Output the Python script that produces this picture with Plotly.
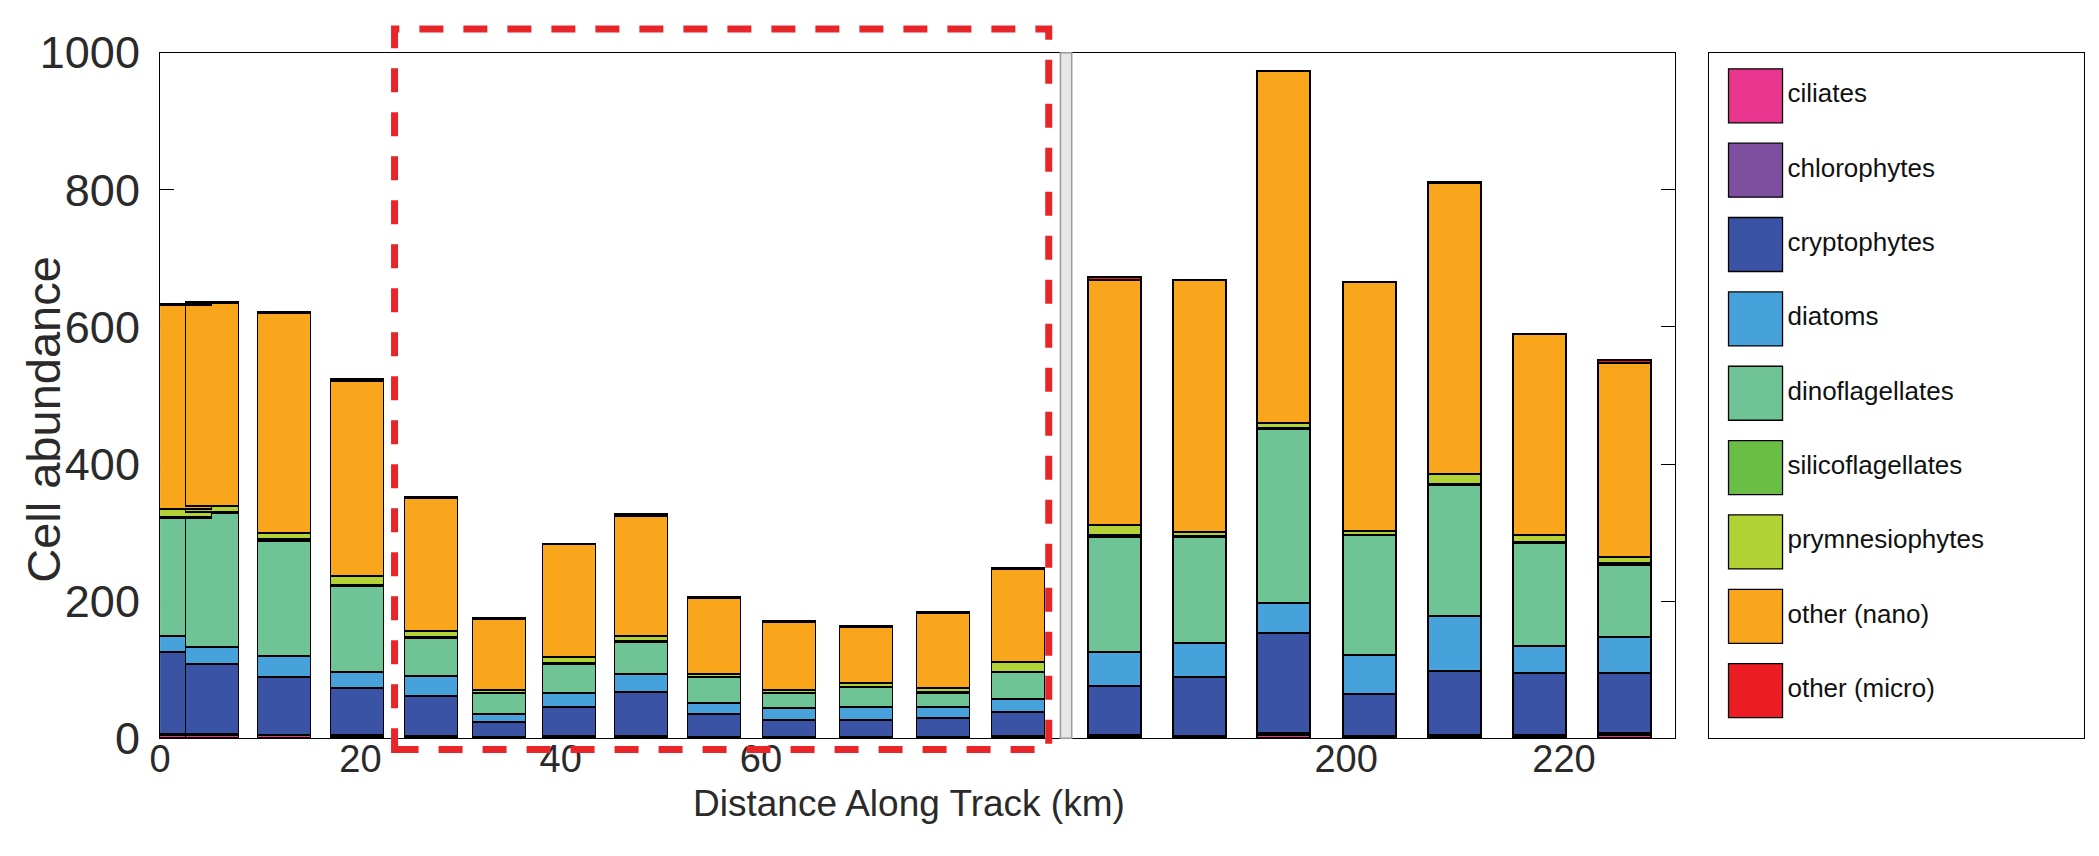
import plotly.graph_objects as go

# groups, bottom to top of each stacked bar
categories = ["ciliates", "chlorophytes", "cryptophytes", "diatoms", "dinoflagellates",
              "silicoflagellates", "prymnesiophytes", "other (nano)", "other (micro)"]
colors = ["#e8368f", "#7f4f9f", "#3a53a4", "#47a1da", "#6fc495",
          "#6abd45", "#b3d235", "#f9a61c", "#ec1c24"]

# left part of the track (km)
dist_left = [2.5, 5.2, 12.4, 19.7, 27.1, 33.9, 40.9, 48.1, 55.4, 62.9, 70.5, 78.2, 85.7]
ciliates_l = [3, 3, 3, 2, 1, 1, 1, 1, 1, 1, 1, 1, 1]
chlorophytes_l = [2, 2, 1, 1, 1, 0, 1, 1, 0, 0, 0, 0, 1]
cryptophytes_l = [120, 103, 85, 69, 58, 21, 43, 65, 34, 24, 25, 27, 35]
diatoms_l = [23, 24, 30, 23, 30, 13, 20, 26, 15, 18, 18, 16, 19]
dinoflagellates_l = [172, 196, 168, 126, 55, 30, 43, 47, 38, 22, 29, 21, 39]
silicoflagellates_l = [2, 1, 2, 2, 1, 0, 1, 1, 0, 0, 0, 1, 1]
prymnesiophytes_l = [11, 9, 9, 12, 9, 5, 9, 7, 5, 4, 7, 6, 14]
nano_l = [298, 296, 322, 285, 195, 103, 164, 175, 110, 100, 81, 110, 136]
micro_l = [1, 1, 1, 3, 1, 1, 1, 3, 2, 1, 1, 1, 2]

# right part of the track (km)
dist_right = [178.8, 186.6, 194.3, 202.2, 210.0, 217.8, 225.6]
ciliates_r = [2, 1, 3, 1, 2, 1, 3]
chlorophytes_r = [1, 1, 3, 1, 1, 3, 3]
cryptophytes_r = [72, 86, 146, 62, 94, 90, 88]
diatoms_r = [50, 50, 44, 56, 81, 40, 53]
dinoflagellates_r = [168, 155, 254, 175, 191, 150, 105]
silicoflagellates_r = [2, 1, 2, 1, 1, 1, 3]
prymnesiophytes_r = [15, 6, 7, 6, 14, 10, 9]
nano_r = [358, 367, 513, 362, 425, 293, 282]
micro_r = [4, 1, 1, 1, 1, 1, 4]

left = [ciliates_l, chlorophytes_l, cryptophytes_l, diatoms_l, dinoflagellates_l,
        silicoflagellates_l, prymnesiophytes_l, nano_l, micro_l]
right = [ciliates_r, chlorophytes_r, cryptophytes_r, diatoms_r, dinoflagellates_r,
         silicoflagellates_r, prymnesiophytes_r, nano_r, micro_r]

FONT = "Liberation Sans, Arial, Helvetica, sans-serif"

fig = go.Figure()
for name, col, vl, vr in zip(categories, colors, left, right):
    fig.add_trace(go.Bar(x=dist_left, y=vl, width=5.3, name=name, marker_color=col,
                         marker_line=dict(color="black", width=1.3),
                         xaxis="x", yaxis="y", showlegend=False))
    fig.add_trace(go.Bar(x=dist_right, y=vr, width=4.85, name=name, marker_color=col,
                         marker_line=dict(color="black", width=1.3),
                         xaxis="x2", yaxis="y2", showlegend=False))

# legend drawn as its own little axis: one square per group
rows = list(range(1, len(categories) + 1))
fig.add_trace(go.Scatter(x=[0.125] * len(rows), y=rows, mode="markers",
                         marker=dict(symbol="square", size=54, color=colors,
                                     line=dict(color="black", width=1.3)),
                         xaxis="x3", yaxis="y3", showlegend=False, hoverinfo="skip"))
fig.add_trace(go.Scatter(x=[0.21] * len(rows), y=rows, mode="text", text=categories,
                         textposition="middle right",
                         textfont=dict(family=FONT, size=26, color="#111111"),
                         xaxis="x3", yaxis="y3", showlegend=False, hoverinfo="skip"))

y0, y1 = 0.114, 0.9656
axis_common = dict(showline=True, linecolor="black", linewidth=1.3, mirror=True,
                   showgrid=False, zeroline=False)

fig.update_layout(
    width=2099, height=856,
    margin=dict(l=0, r=0, t=0, b=0),
    paper_bgcolor="white", plot_bgcolor="white",
    barmode="stack", bargap=0,
    font=dict(family=FONT, color="#2a2a2a"),
    xaxis=dict(domain=[0.0714, 0.5026], range=[0, 89.9], anchor="y",
               tickvals=[0, 20, 40, 60], ticks="", tickfont=dict(size=38),
               ticklabelstandoff=-13, **axis_common),
    yaxis=dict(domain=[y0, y1], range=[0, 1000], anchor="x",
               tickvals=[0, 200, 400, 600, 800, 1000], ticks="inside", ticklen=14,
               tickcolor="black", layer="below traces", tickfont=dict(size=45),
               ticklabelstandoff=10, **axis_common),
    xaxis2=dict(domain=[0.508, 0.797], range=[174.8, 230.2], anchor="y2",
                tickvals=[200, 220], ticks="", tickfont=dict(size=38),
                ticklabelstandoff=-13, **axis_common),
    yaxis2=dict(domain=[y0, y1], range=[0, 1000], anchor="x2", side="right",
                tickvals=[200, 400, 600, 800], ticks="inside", ticklen=14,
                tickcolor="black", showticklabels=False, layer="below traces",
                **axis_common),
    xaxis3=dict(domain=[0.813, 0.993], range=[0, 1], anchor="y3",
                showticklabels=False, ticks="", fixedrange=True, **axis_common),
    yaxis3=dict(domain=[y0, y1], range=[9.64, 0.42], anchor="x3",
                showticklabels=False, ticks="", fixedrange=True, **axis_common),
    shapes=[
        # gap between the two parts of the broken axis
        dict(type="rect", xref="paper", yref="paper", x0=0.5026, x1=0.508, y0=y0, y1=y1,
             fillcolor="#e6e6e6", line=dict(color="#9a9a9a", width=1.5), layer="above"),
        # highlighted section
        dict(type="rect", xref="paper", yref="paper", x0=0.1837, x1=0.497, y0=0.100, y1=0.995,
             line=dict(color="#e8262a", width=7, dash="24px,20px"), layer="above"),
    ],
    annotations=[
        dict(text="Distance Along Track (km)", xref="paper", yref="paper", x=0.43, y=0.033,
             showarrow=False, font=dict(size=37, color="#2a2a2a"), xanchor="center",
             yanchor="middle"),
        dict(text="Cell abundance", xref="paper", yref="paper", x=0.0155, y=0.51,
             showarrow=False, textangle=-90, font=dict(size=47, color="#2a2a2a"),
             xanchor="center", yanchor="middle"),
    ],
)

# page without the default body margin, so the figure fills the window exactly
fig.write_html("out.html", config={"displayModeBar": False},
               post_script="document.body.style.margin='0';document.body.style.overflow='hidden';")
